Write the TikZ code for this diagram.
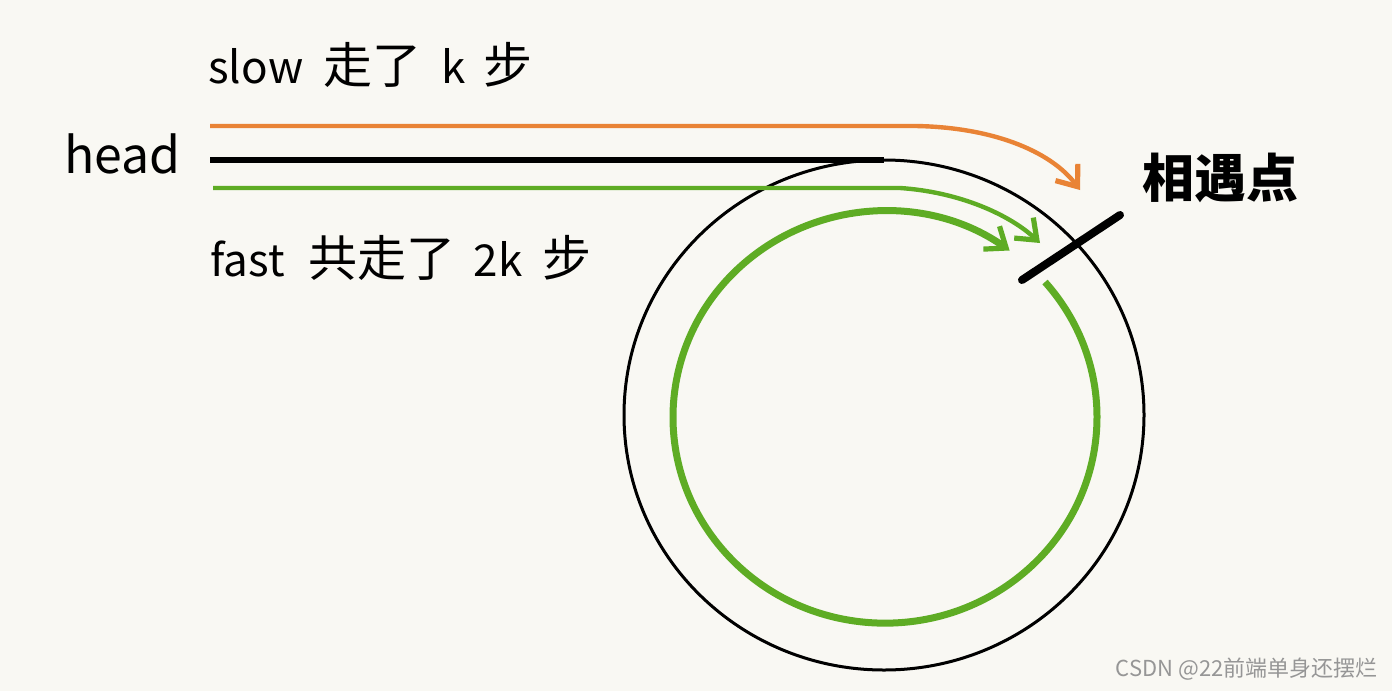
\documentclass[tikz,border=0pt]{standalone}
\usepackage{fontspec}
\setmainfont{Noto Sans CJK SC}
\usetikzlibrary{arrows.meta}
\definecolor{paper}{RGB}{249,248,243}
\definecolor{orangeline}{RGB}{233,131,53}
\definecolor{greenline}{RGB}{94,172,36}
\definecolor{wmark}{RGB}{150,150,150}
\newcommand\cjbig[1]{{\fontsize{24.5}{28}\selectfont #1}}
\tikzset{
  lbl/.style={inner sep=0pt, anchor=base west, font=\fontsize{22}{26}\selectfont},
  barb/.style={-{Straight Barb[length=9pt,width=14pt,line width=2.6pt]}},
}
\begin{document}
\begin{tikzpicture}[x=0.5pt,y=-0.5pt]
\fill[paper] (0,0) rectangle (1392,691);
\useasboundingbox (0,0) rectangle (1392,691);

% coordinates
\coordinate (c) at (884,415);
\coordinate (o1) at (210,126);
\coordinate (o2) at (915,126);
\coordinate (o3) at (1080,190);
\coordinate (b1) at (210,160);
\coordinate (b2) at (884,160);
\coordinate (g1) at (213,188);
\coordinate (g2) at (900,188);
\coordinate (g3) at (1040,243);
\coordinate (gs) at (1045,282);
\coordinate (t1) at (1022,280);
\coordinate (t2) at (1120,215);

% texts
\node[lbl] (slow) at (208,83) {slow\hspace{10pt}\cjbig{走了}\hspace{10pt}k\hspace{9pt}\cjbig{步}};
\node[lbl] (fast) at (210,276) {fast\hspace{12pt}\cjbig{共走了}\hspace{9pt}2k\hspace{10pt}\cjbig{步}};
\node[inner sep=0pt, anchor=base west, font=\fontsize{25}{28}\selectfont] (head) at (64,173) {head};
\node[inner sep=0pt, anchor=center, font=\fontsize{26}{30}\selectfont\bfseries] (meet) at (1220,178) {相遇点};
\node[inner sep=0pt, anchor=east, text=wmark, font=\fontsize{11}{13}\selectfont] (csdn) at (1378,669) {CSDN @22前端单身还摆烂};

% black circle and line
\draw[black, line width=1.5pt] (c) ellipse [x radius=260, y radius=255];
\draw[black, line width=2.8pt] (b1) -- (b2);

% orange path
\draw[orangeline, line width=2.2pt, barb] (o1) -- (o2) .. controls (990,127) and (1050,150) .. (o3);

% green outer path
\draw[greenline, line width=2.2pt, barb] (g1) -- (g2) .. controls (960,192) and (1010,215) .. (g3);

% green inner loop
\draw[greenline, line width=3.5pt, barb] (gs) arc[start angle=-41, end angle=306, x radius=212, y radius=206];

% meeting tick
\draw[black, line width=4pt, line cap=round] (t1) -- (t2);
\end{tikzpicture}
\end{document}
